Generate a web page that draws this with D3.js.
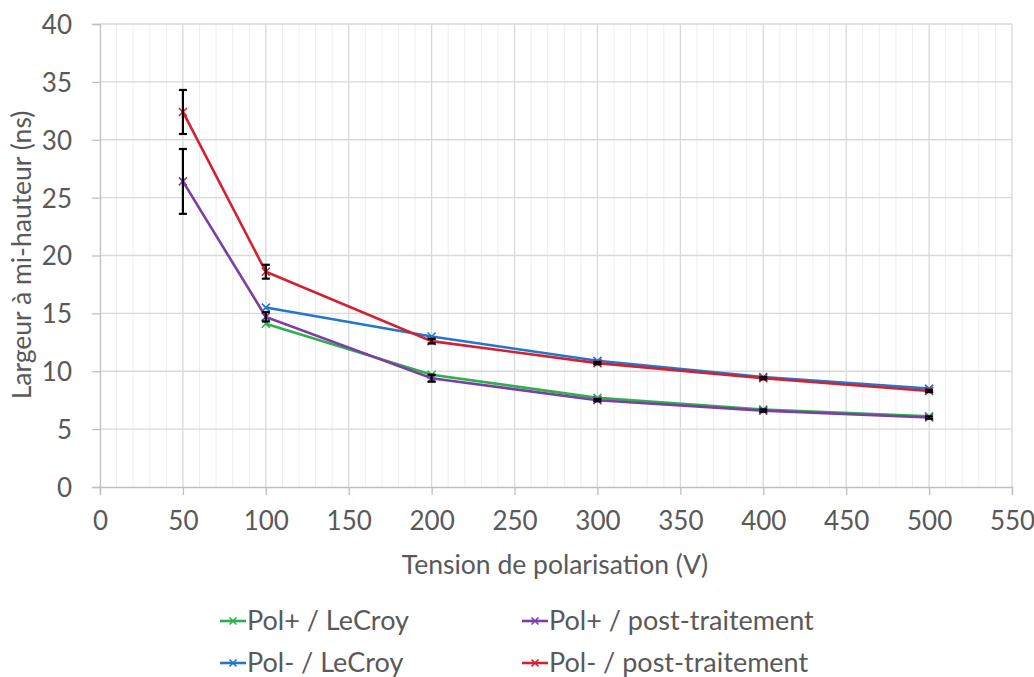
<!DOCTYPE html>
<html><head><meta charset="utf-8">
<script src="https://cdn.jsdelivr.net/npm/d3@7"></script>
<style>body{margin:0;background:#fff}svg{display:block}text{font-family:Lato,"Open Sans",sans-serif;fill:#595959}</style>
</head><body><svg id="c" width="1034" height="677"></svg>
<script>
const voltages = [50, 100, 200, 300, 400, 500];
const polPlusLeCroy = [null, 14.1, 9.7, 7.7, 6.7, 6.1];
const polPlusPost = [26.4, 14.7, 9.4, 7.5, 6.6, 6.0];
const polPlusPostErr = [2.8, 0.4, 0.3, 0.1, 0.1, 0.1];
const polMinusLeCroy = [null, 15.5, 13.0, 10.9, 9.5, 8.5];
const polMinusPost = [32.4, 18.6, 12.6, 10.7, 9.4, 8.3];
const polMinusPostErr = [1.9, 0.6, 0.2, 0.1, 0.1, 0.1];
const xTicks = [0,50,100,150,200,250,300,350,400,450,500,550];
const yTicks = [0,5,10,15,20,25,30,35,40];
const seriesNames = ["Pol+ / LeCroy","Pol+ / post-traitement","Pol- / LeCroy","Pol- / post-traitement"];
const colors = ["#2EAF4E","#7B3FA3","#2277CC","#D42030"];

const series = [
  {name: seriesNames[0], vals: polPlusLeCroy, err: null, color: colors[0]},
  {name: seriesNames[2], vals: polMinusLeCroy, err: null, color: colors[2]},
  {name: seriesNames[1], vals: polPlusPost, err: polPlusPostErr, color: colors[1]},
  {name: seriesNames[3], vals: polMinusPost, err: polMinusPostErr, color: colors[3]},
];

const svg = d3.select("#c");
const x = d3.scaleLinear().domain([0,550]).range([100,1012]);
const y = d3.scaleLinear().domain([0,40]).range([487,24]);

const minor = d3.range(0,551,10).filter(v => v%50!==0);
svg.append("g").selectAll("line").data(minor).join("line")
  .attr("x1",d=>x(d)).attr("x2",d=>x(d)).attr("y1",y(0)).attr("y2",y(40))
  .attr("stroke","#eeeeee").attr("stroke-width",1);
svg.append("g").selectAll("line").data(xTicks.slice(1)).join("line")
  .attr("x1",d=>x(d)).attr("x2",d=>x(d)).attr("y1",y(0)).attr("y2",y(40))
  .attr("stroke","#d9d9d9").attr("stroke-width",1.3);
svg.append("g").selectAll("line").data(yTicks.slice(1)).join("line")
  .attr("x1",x(0)).attr("x2",x(550)).attr("y1",d=>y(d)).attr("y2",d=>y(d))
  .attr("stroke","#d9d9d9").attr("stroke-width",1.3);

const xAxis = d3.axisBottom(x).tickValues(xTicks).tickSize(8).tickPadding(17);
const gx = svg.append("g").attr("transform",`translate(0,${y(0)})`).call(xAxis);
const yAxis = d3.axisLeft(y).tickValues(yTicks).tickSize(8).tickPadding(20);
const gy = svg.append("g").attr("transform",`translate(${x(0)},0)`).call(yAxis);
[gx,gy].forEach(g=>{
  g.select(".domain").attr("stroke","#bfbfbf").attr("stroke-width",1.3);
  g.selectAll(".tick line").attr("stroke","#bfbfbf").attr("stroke-width",1.3);
  g.selectAll(".tick text").style("font-family","Lato").style("font-size","26px").attr("fill","#595959");
});
gy.selectAll(".tick text").attr("dy","0.36em");

svg.append("text").attr("x",555).attr("y",574).attr("text-anchor","middle")
  .style("font-size","26.5px").text("Tension de polarisation (V)");
svg.append("text").attr("transform",`translate(31,${255}) rotate(-90)`).attr("text-anchor","middle")
  .style("font-size","26.5px").text("Largeur à mi-hauteur (ns)");

const line = d3.line().defined(d=>d.v!=null).x(d=>x(d.x)).y(d=>y(d.v));
function marker(g, cx, cy, color, s){
  g.append("path").attr("d",`M${cx-s},${cy-s}L${cx+s},${cy+s}M${cx-s},${cy+s}L${cx+s},${cy-s}`)
    .attr("stroke",color).attr("stroke-width",1.6).attr("fill","none");
}
series.forEach(s=>{
  const pts = voltages.map((v,i)=>({x:v, v:s.vals[i], e: s.err? s.err[i]:0}));
  const g = svg.append("g");
  g.append("path").datum(pts).attr("d",line).attr("fill","none").attr("stroke",s.color).attr("stroke-width",2.6);
  pts.filter(p=>p.v!=null).forEach(p=>marker(g,x(p.x),y(p.v),s.color,4));
  if(s.err){
    pts.forEach(p=>{
      const cx=x(p.x), t=y(p.v+p.e), b=y(p.v-p.e);
      g.append("line").attr("x1",cx).attr("x2",cx).attr("y1",t).attr("y2",b).attr("stroke","#000").attr("stroke-width",2.2);
      g.append("line").attr("x1",cx-4).attr("x2",cx+4).attr("y1",t).attr("y2",t).attr("stroke","#000").attr("stroke-width",2.2);
      g.append("line").attr("x1",cx-4).attr("x2",cx+4).attr("y1",b).attr("y2",b).attr("stroke","#000").attr("stroke-width",2.2);
    });
  }
});

const leg = [
  {name:seriesNames[0], color:colors[0], lx:220, ly:621},
  {name:seriesNames[1], color:colors[1], lx:522, ly:621},
  {name:seriesNames[2], color:colors[2], lx:220, ly:663},
  {name:seriesNames[3], color:colors[3], lx:522, ly:663},
];
leg.forEach(l=>{
  const g = svg.append("g");
  g.append("line").attr("x1",l.lx).attr("x2",l.lx+26).attr("y1",l.ly).attr("y2",l.ly).attr("stroke",l.color).attr("stroke-width",2.6);
  marker(g,l.lx+13,l.ly,l.color,3.5);
  g.append("text").attr("x",l.lx+27).attr("y",l.ly).attr("dy","0.35em").style("font-size","27px").text(l.name);
});
</script></body></html>
